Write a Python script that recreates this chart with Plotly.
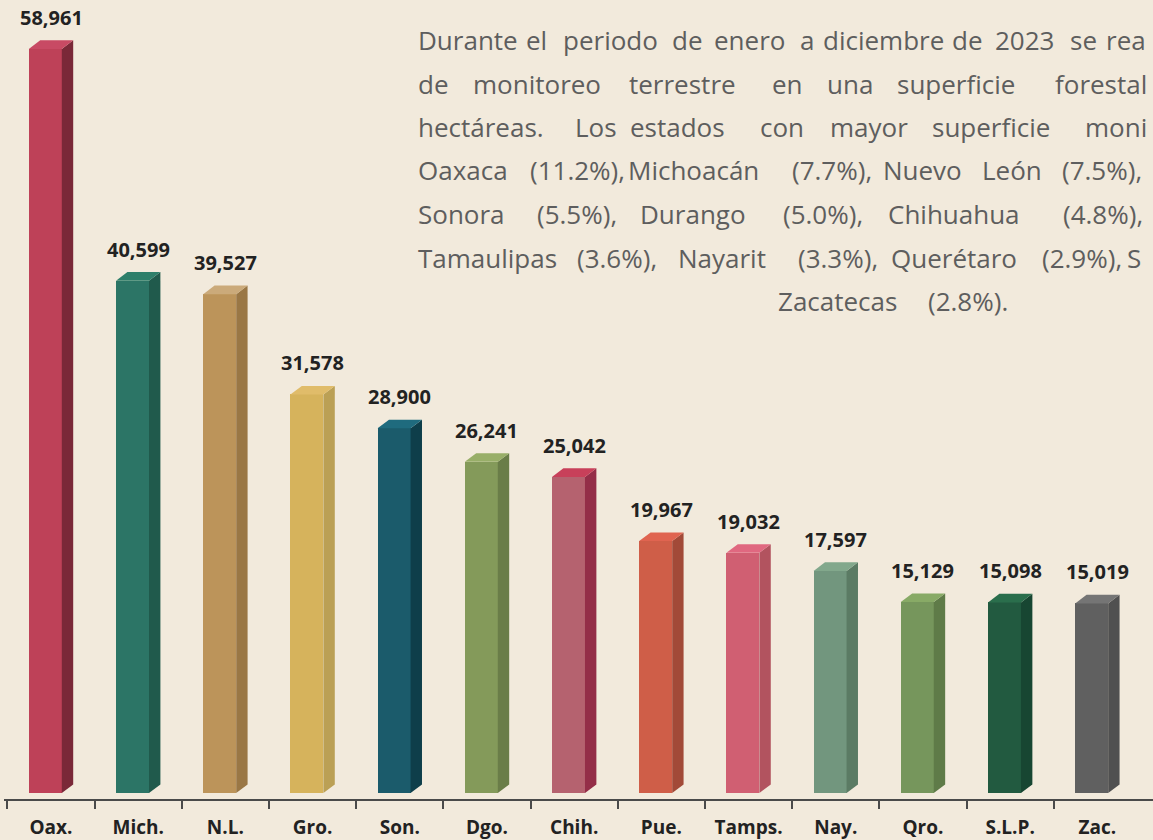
import plotly.graph_objects as go

# ---------------- data ----------------
categories = ["Oax.", "Mich.", "N.L.", "Gro.", "Son.", "Dgo.", "Chih.", "Pue.",
              "Tamps.", "Nay.", "Qro.", "S.L.P.", "Zac."]
values = [58961, 40599, 39527, 31578, 28900, 26241, 25042, 19967,
          19032, 17597, 15129, 15098, 15019]

front_colors = ["#BE4158", "#2C7566", "#BC945A", "#D6B35C", "#1B5B6B", "#849A5A", "#B5626F",
                "#CF5E48", "#D05F72", "#72967E", "#76965C", "#225A40", "#606060"]
side_colors = ["#7A2838", "#205A4C", "#9A7745", "#BBA055", "#0E3E4A", "#6A7D48", "#942E48",
               "#A24A38", "#B2535F", "#5B7B64", "#5F7B48", "#174632", "#505050"]
top_colors = ["#C84A64", "#2E7F6A", "#CBAA7A", "#E0BC6A", "#1F6B7E", "#98AE68", "#C8405A",
              "#E06450", "#E06880", "#82A88C", "#88AA66", "#2A6E4C", "#757575"]

# paragraph (justified lines: words with their left pixel positions)
text_lines = [
    [("Durante", 418), ("el", 526), ("periodo", 563), ("de", 672), ("enero", 714), ("a", 800),
     ("diciembre", 823), ("de", 952), ("2023", 995), ("se", 1070), ("rea", 1106)],
    [("de", 418), ("monitoreo", 473), ("terrestre", 629), ("en", 772), ("una", 827),
     ("superficie", 897), ("forestal", 1055)],
    [("hectáreas.", 418), ("Los", 575), ("estados", 630), ("con", 760), ("mayor", 830),
     ("superficie", 932), ("moni", 1085)],
    [("Oaxaca", 418), ("(11.2%),", 530), ("Michoacán", 628), ("(7.7%),", 792), ("Nuevo", 883),
     ("León", 982), ("(7.5%),", 1062)],
    [("Sonora", 418), ("(5.5%),", 537), ("Durango", 640), ("(5.0%),", 783), ("Chihuahua", 888),
     ("(4.8%),", 1063)],
    [("Tamaulipas", 418), ("(3.6%),", 577), ("Nayarit", 678), ("(3.3%),", 798), ("Querétaro", 891),
     ("(2.9%),", 1042), ("S", 1127)],
    [("Zacatecas", 778), ("(2.8%).", 928)],
]
line_y = [40, 84, 127, 170, 214, 258, 301]

# ---------------- geometry ----------------
W, H = 1153, 840
ML, MR, MT, MB = 4, 0, 0, 41
PW, PH = W - ML - MR, H - MT - MB
x_range = [-0.539, 12.638]
y_range = [-475, 62837]
px_per_x = PW / (x_range[1] - x_range[0])
px_per_y = PH / (y_range[1] - y_range[0])

front_w = 33 / px_per_x
depth_x = 11.4 / px_per_x
depth_y = 8.6 / px_per_y
left_off = -(front_w + depth_x) / 2

idx = list(range(len(categories)))

fig = go.Figure()
fig.add_trace(go.Bar(x=idx, y=values, width=front_w, offset=left_off,
                     marker=dict(color=front_colors, line=dict(width=0)),
                     hoverinfo="skip"))

for i, v in zip(idx, values):
    xl = i + left_off
    xr = xl + front_w
    # side face
    fig.add_trace(go.Scatter(
        x=[xr, xr + depth_x, xr + depth_x, xr, xr],
        y=[0, depth_y, v + depth_y, v, 0],
        fill="toself", fillcolor=side_colors[i], mode="lines",
        line=dict(width=0, color=side_colors[i]), hoverinfo="skip"))
    # top face
    fig.add_trace(go.Scatter(
        x=[xl, xr, xr + depth_x, xl + depth_x, xl],
        y=[v, v, v + depth_y, v + depth_y, v],
        fill="toself", fillcolor=top_colors[i], mode="lines",
        line=dict(width=0, color=top_colors[i]), hoverinfo="skip"))
    # value label
    fig.add_annotation(x=i, y=v + depth_y, yshift=23, text=f"{v:,}", showarrow=False,
                       xanchor="center", yanchor="middle",
                       font=dict(family="Open Sans", size=20, color="#222222", weight=700))

# paragraph text
for words, py in zip(text_lines, line_y):
    for w, px in words:
        fig.add_annotation(xref="paper", yref="paper",
                           x=(px - ML - 2) / PW, y=(H - MB - py) / PH,
                           text=w, showarrow=False, xanchor="left", yanchor="middle",
                           font=dict(family="Open Sans", size=26, color="#5E5E5E"))

fig.update_layout(
    width=W, height=H,
    margin=dict(l=ML, r=MR, t=MT, b=MB, pad=0, autoexpand=False),
    paper_bgcolor="#F2EADC", plot_bgcolor="#F2EADC",
    showlegend=False, bargap=0,
    xaxis=dict(range=x_range, tickmode="array", tickvals=idx, ticktext=categories,
               ticks="", showgrid=False, zeroline=False, showline=True, automargin=False,
               linecolor="#4A4A4A", linewidth=2, ticklabelstandoff=10,
               tickfont=dict(family="Open Sans", size=19, color="#222222", weight=700),
               minor=dict(tickvals=[i - 0.5 for i in idx], ticks="outside", ticklen=8,
                          tickcolor="#4A4A4A", tickwidth=2, showgrid=False),
               fixedrange=True),
    yaxis=dict(range=y_range, visible=False, showgrid=False, zeroline=False,
               automargin=False, fixedrange=True),
)

fig.write_html("out.html")
